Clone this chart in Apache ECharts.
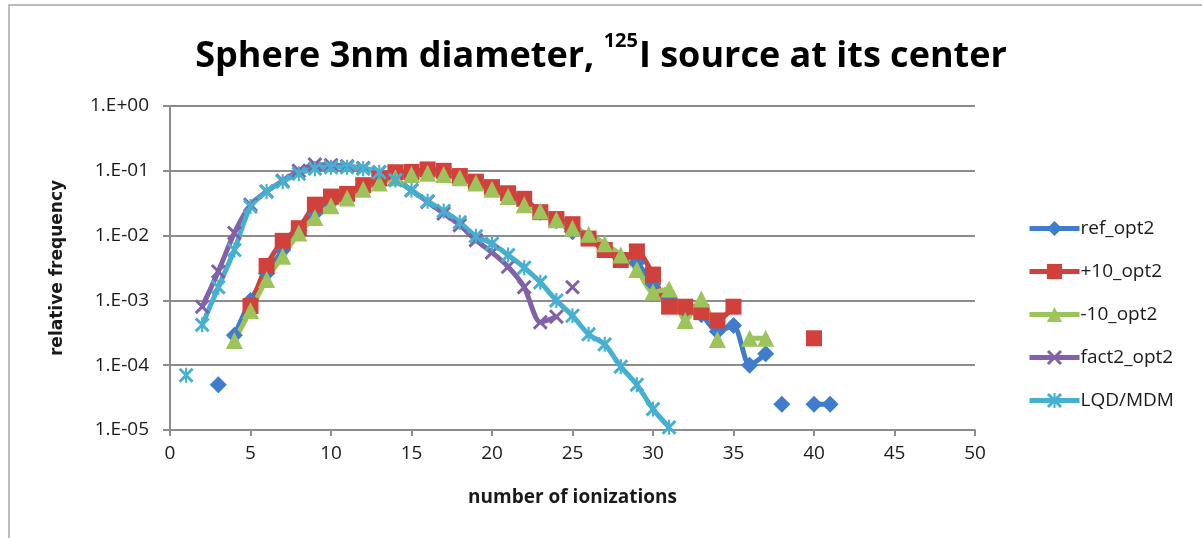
<!DOCTYPE html>
<html>
<head>
<meta charset="utf-8">
<script src="https://cdn.jsdelivr.net/npm/echarts@6/dist/echarts.min.js"></script>
<style>
html,body{margin:0;padding:0;background:#fff;}
#chart{width:1202px;height:538px;}
</style>
</head>
<body>
<div id="chart"></div>
<script>
// ---- data (x = number of ionizations, y = relative frequency) ----
const xTicks = [0, 5, 10, 15, 20, 25, 30, 35, 40, 45, 50];

const refX = [3, 4, 5, 6, 7, 8, 9, 10, 11, 12, 13, 14, 15, 16, 17, 18, 19, 20, 21, 22, 23, 24, 25, 26, 27, 28, 29, 30, 31, 32, 33, 34, 35, 36, 37, 38, 40, 41];
const refY = [5.0e-5, 2.9e-4, 1.0e-3, 2.6e-3, 6.0e-3, 1.2e-2, 2.2e-2, 3.3e-2, 4.3e-2, 5.7e-2, 7.2e-2, 8.5e-2, 9.2e-2, 9.8e-2, 9.4e-2, 8.2e-2, 6.6e-2, 5.3e-2, 4.1e-2, 3.2e-2, 2.3e-2, 1.7e-2, 1.15e-2, 9.5e-3, 6.5e-3, 4.5e-3, 3.8e-3, 1.8e-3, 1.1e-3, 7.0e-4, 6.0e-4, 3.3e-4, 4.1e-4, 1.0e-4, 1.5e-4, 2.5e-5, 2.5e-5, 2.5e-5];
const refBreakAfter = [3, 37, 38];

const p10X = [5, 6, 7, 8, 9, 10, 11, 12, 13, 14, 15, 16, 17, 18, 19, 20, 21, 22, 23, 24, 25, 26, 27, 28, 29, 30, 31, 32, 33, 34, 35, 40];
const p10Y = [8.2e-4, 3.4e-3, 8.3e-3, 1.3e-2, 3.0e-2, 4.0e-2, 4.4e-2, 6.0e-2, 7.6e-2, 9.5e-2, 9.6e-2, 1.05e-1, 1.0e-1, 8.3e-2, 6.8e-2, 5.6e-2, 4.5e-2, 3.7e-2, 2.3e-2, 1.8e-2, 1.5e-2, 9.0e-3, 6.0e-3, 4.2e-3, 5.7e-3, 2.5e-3, 8.0e-4, 8.0e-4, 6.6e-4, 4.9e-4, 8.0e-4, 2.6e-4];
const p10BreakAfter = [35];

const m10X = [4, 5, 6, 7, 8, 9, 10, 11, 12, 13, 14, 15, 16, 17, 18, 19, 20, 21, 22, 23, 24, 25, 26, 27, 28, 29, 30, 31, 32, 33, 34, 36, 37];
const m10Y = [2.4e-4, 7.0e-4, 2.1e-3, 4.8e-3, 1.1e-2, 1.9e-2, 2.9e-2, 3.8e-2, 5.2e-2, 6.5e-2, 7.8e-2, 8.8e-2, 9.2e-2, 8.8e-2, 7.8e-2, 6.5e-2, 5.2e-2, 4.0e-2, 3.0e-2, 2.4e-2, 1.75e-2, 1.3e-2, 1.05e-2, 7.5e-3, 5.0e-3, 3.0e-3, 1.35e-3, 1.5e-3, 4.9e-4, 1.05e-3, 2.5e-4, 2.6e-4, 2.6e-4];
const m10BreakAfter = [34];

const f2X = [2, 3, 4, 5, 6, 7, 8, 9, 10, 11, 12, 13, 14, 15, 16, 17, 18, 19, 20, 21, 22, 23, 24, 25];
const f2Y = [8.0e-4, 2.8e-3, 1.1e-2, 3.0e-2, 4.8e-2, 7.0e-2, 1.0e-1, 1.25e-1, 1.22e-1, 1.18e-1, 1.1e-1, 9.5e-2, 7.2e-2, 5.0e-2, 3.3e-2, 2.2e-2, 1.45e-2, 8.5e-3, 5.5e-3, 3.3e-3, 1.6e-3, 4.6e-4, 5.6e-4, 1.6e-3];
const f2BreakAfter = [24];

const lqdX = [1, 2, 3, 4, 5, 6, 7, 8, 9, 10, 11, 12, 13, 14, 15, 16, 17, 18, 19, 20, 21, 22, 23, 24, 25, 26, 27, 28, 29, 30, 31];
const lqdY = [7.0e-5, 4.2e-4, 1.6e-3, 6.0e-3, 2.8e-2, 4.8e-2, 6.8e-2, 9.0e-2, 1.08e-1, 1.13e-1, 1.13e-1, 1.08e-1, 9.5e-2, 7.2e-2, 5.0e-2, 3.4e-2, 2.4e-2, 1.6e-2, 9.8e-3, 7.5e-3, 5.0e-3, 3.2e-3, 1.9e-3, 1.0e-3, 5.8e-4, 3.0e-4, 2.1e-4, 9.5e-5, 5.0e-5, 2.1e-5, 1.1e-5];
const lqdBreakAfter = [1];

const seriesNames = ['ref_opt2', '+10_opt2', '-10_opt2', 'fact2_opt2', 'LQD/MDM'];
const seriesColors = ['#3f7ccc', '#d0413c', '#9cc45a', '#8162a8', '#45b0d0'];

// ---- build ----
function build(xs, ys, breaks) {
  const out = [];
  for (let i = 0; i < xs.length; i++) {
    out.push([xs[i], ys[i]]);
    if (breaks.indexOf(xs[i]) >= 0) out.push([xs[i], '-']);
  }
  return out;
}

const xSym = 'path://M0,1.4 L1.4,0 L10,8.6 L8.6,10 Z M8.6,0 L10,1.4 L1.4,10 L0,8.6 Z';
const starSym = 'path://M0,1.4 L1.4,0 L10,8.6 L8.6,10 Z M8.6,0 L10,1.4 L1.4,10 L0,8.6 Z M4.3,0 L5.7,0 L5.7,10 L4.3,10 Z';

const defs = [
  {d: build(refX, refY, refBreakAfter), sym: 'diamond', size: 17},
  {d: build(p10X, p10Y, p10BreakAfter), sym: 'rect', size: 16},
  {d: build(m10X, m10Y, m10BreakAfter), sym: 'triangle', size: 17},
  {d: build(f2X, f2Y, f2BreakAfter), sym: xSym, size: 15},
  {d: build(lqdX, lqdY, lqdBreakAfter), sym: starSym, size: 15}
];

const series = defs.map((s, i) => ({
  name: seriesNames[i],
  type: 'line',
  data: s.d,
  smooth: 0.25,
  connectNulls: false,
  symbol: s.sym,
  symbolSize: s.size,
  showSymbol: true,
  color: seriesColors[i],
  lineStyle: {width: 5, color: seriesColors[i]},
  itemStyle: {color: seriesColors[i], borderWidth: 0},
  emphasis: {disabled: true},
  animation: false
}));

function fmtExp(v) {
  const e = Math.round(Math.log10(v));
  const a = Math.abs(e);
  return '1.E' + (e < 0 ? '-' : '+') + (a < 10 ? '0' + a : '' + a);
}

const chart = echarts.init(document.getElementById('chart'), null, {renderer: 'canvas'});
chart.setOption({
  backgroundColor: '#ffffff',
  animation: false,
  title: {
    text: '{a|Sphere 3nm diameter, }{s|125}{a|I source at its center}',
    left: 'center',
    top: 26,
    textStyle: {
      rich: {
        a: {fontFamily: 'Open Sans', fontWeight: 'bold', fontSize: 36, color: '#000', lineHeight: 44, verticalAlign: 'bottom'},
        s: {fontFamily: 'Open Sans', fontWeight: 'bold', fontSize: 20, color: '#000', lineHeight: 36, verticalAlign: 'top', padding: [0, 1, 0, 0]}
      }
    }
  },
  graphic: [{
    type: 'rect',
    shape: {x: 9, y: 5, width: 1300, height: 700},
    style: {fill: 'none', stroke: '#a6a6a6', lineWidth: 1.5},
    silent: true
  }],
  legend: {
    orient: 'vertical',
    left: 1022,
    top: 214,
    itemWidth: 50,
    itemHeight: 19,
    itemGap: 24,
    lineStyle: {width: 5},
    textStyle: {fontFamily: 'Open Sans', fontSize: 19, color: '#1a1a1a', lineHeight: 19, padding: [0, 0, 0, -4]},
    data: seriesNames
  },
  grid: {left: 170, right: 227, top: 106, bottom: 108, containLabel: false},
  xAxis: {
    type: 'value',
    min: xTicks[0],
    max: xTicks[xTicks.length - 1],
    interval: xTicks[1] - xTicks[0],
    name: 'number of ionizations',
    nameLocation: 'middle',
    nameGap: 58,
    nameTextStyle: {fontFamily: 'Open Sans', fontWeight: 'bold', fontSize: 19, color: '#1a1a1a'},
    axisLine: {show: true, lineStyle: {color: '#8c8c8c', width: 2}},
    axisTick: {show: true, inside: false, length: 6, lineStyle: {color: '#8c8c8c', width: 2}},
    axisLabel: {fontFamily: 'Open Sans', fontSize: 19, color: '#1a1a1a', margin: 14},
    splitLine: {show: false}
  },
  yAxis: {
    type: 'log',
    logBase: 10,
    min: 1e-5,
    max: 1,
    name: 'relative frequency',
    nameLocation: 'middle',
    nameGap: 104,
    nameRotate: 90,
    nameTextStyle: {fontFamily: 'DejaVu Sans', fontWeight: 'bold', fontSize: 17, color: '#1a1a1a'},
    axisLine: {show: true, lineStyle: {color: '#8c8c8c', width: 2}},
    axisTick: {show: true, inside: false, length: 7, lineStyle: {color: '#8c8c8c', width: 2}},
    axisLabel: {fontFamily: 'Open Sans', fontSize: 19, color: '#1a1a1a', margin: 21, formatter: fmtExp},
    splitLine: {show: true, lineStyle: {color: '#8c8c8c', width: 2}},
    minorTick: {show: false},
    minorSplitLine: {show: false}
  },
  series: series
});
</script>
</body>
</html>
